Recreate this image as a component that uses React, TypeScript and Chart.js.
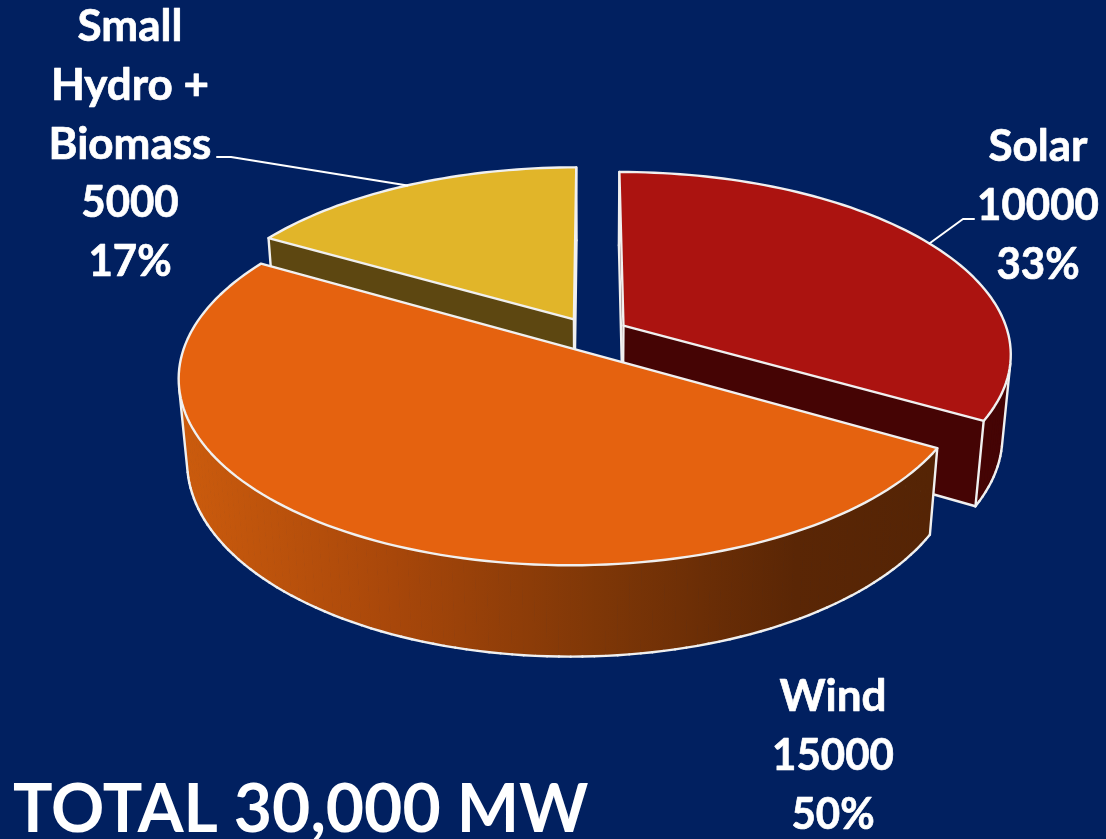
import React, { useEffect, useRef } from "react";
import { Chart, registerables } from "chart.js";

Chart.register(...registerables);

// Installed capacity split
const categories = ["Solar", "Wind", "Small\nHydro +\nBiomass"];
const capacityMW = [10000, 15000, 5000];
const heading = "TOTAL 30,000 MW";

// Slice styling
const topColors = ["#ab1310", "#e5620f", "#e1b529"];
const sideColors = ["#450404", "#552405", "#5d4711"];
const background = "#012060";
const edgeColor = "#f0f0f0";

// Label placement: centre x, first baseline, optional leader elbow points
const labelCentres = [1038, 833, 130];
const labelTops = [161, 711, 41];
const leaderElbows: number[][][] = [
  [[974, 219], [963, 219]],
  [],
  [[217, 157], [231, 157]],
];
const LINE_HEIGHT = 58.8;
const NUMBER_SQUEEZE = 0.955;

// Camera model for the tilted disc
const CX = 592;
const CY = 334;
const RX = 385;
const KY = 179;
const PERSPECTIVE = 0.15;
const DEPTH = 83;
const DEPTH_SHRINK = 0.02;

type Pt = { x: number; y: number };

const project = (u: number, v: number, z: number): Pt => {
  const w = 1 - PERSPECTIVE * v + DEPTH_SHRINK * z;
  return { x: CX + (RX * u) / w, y: CY + (KY * v + DEPTH * z) / w };
};

const pie3d = {
  id: "pie3d",
  beforeDatasetsDraw(chart: Chart) {
    const ctx = chart.ctx;
    const arcs = chart.getDatasetMeta(0).data as any[];
    const total = capacityMW.reduce((a, b) => a + b, 0);

    const windWall = ctx.createLinearGradient(185, 0, 930, 0);
    windWall.addColorStop(0, "#cb5b0d");
    windWall.addColorStop(0.28, "#a8470a");
    windWall.addColorStop(0.55, "#7f3707");
    windWall.addColorStop(0.82, "#5a2605");
    windWall.addColorStop(1, sideColors[1]);

    ctx.save();
    ctx.lineJoin = "round";
    ctx.lineCap = "round";

    // Back slices first, the front slice last
    for (const i of [2, 0, 1]) {
      const arc = arcs[i];
      const start: number = arc.startAngle;
      const end: number = arc.endAngle;
      const mid = (start + end) / 2;
      const d = arc.options.offset / arc.outerRadius;
      const ox = Math.cos(mid) * d;
      const oy = Math.sin(mid) * d;

      // Outline of the slice in the disc plane, clockwise from the apex
      const plane: { u: number; v: number; rim: boolean }[] = [{ u: ox, v: oy, rim: false }];
      const steps = Math.ceil((end - start) / (Math.PI / 120));
      for (let s = 0; s <= steps; s++) {
        const a = start + ((end - start) * s) / steps;
        plane.push({ u: ox + Math.cos(a), v: oy + Math.sin(a), rim: s > 0 && s < steps });
      }
      const top = plane.map((p) => project(p.u, p.v, 0));
      const bottom = plane.map((p) => project(p.u, p.v, 1));
      const n = plane.length;

      // Keep the wall quads that face the viewer
      const front: boolean[] = [];
      for (let j = 0; j < n; j++) {
        const k = (j + 1) % n;
        const quad = [top[j], top[k], bottom[k], bottom[j]];
        let area = 0;
        quad.forEach((p, q) => {
          const r = quad[(q + 1) % 4];
          area += p.x * r.y - r.x * p.y;
        });
        front.push(area < 0);
      }

      const isRimEdge = (j: number) => j >= 1 && j < n - 1;
      const wallFill = (j: number) => (i === 1 && isRimEdge(j) ? windWall : sideColors[i]);

      for (let j = 0; j < n; j++) {
        if (!front[j]) continue;
        const k = (j + 1) % n;
        ctx.beginPath();
        ctx.moveTo(top[j].x, top[j].y);
        ctx.lineTo(top[k].x, top[k].y);
        ctx.lineTo(bottom[k].x, bottom[k].y);
        ctx.lineTo(bottom[j].x, bottom[j].y);
        ctx.closePath();
        ctx.fillStyle = wallFill(j);
        ctx.strokeStyle = wallFill(j);
        ctx.lineWidth = 1;
        ctx.fill();
        ctx.stroke();
      }

      // Wall edges: lower rim, silhouette turns and slice corners
      ctx.strokeStyle = edgeColor;
      ctx.lineWidth = 2.4;
      for (let j = 0; j < n; j++) {
        const k = (j + 1) % n;
        if (front[j]) {
          ctx.beginPath();
          ctx.moveTo(bottom[j].x, bottom[j].y);
          ctx.lineTo(bottom[k].x, bottom[k].y);
          ctx.stroke();
        }
        const prev = (j - 1 + n) % n;
        const corner = !plane[j].rim;
        if (front[prev] !== front[j] || (corner && (front[prev] || front[j]))) {
          ctx.beginPath();
          ctx.moveTo(top[j].x, top[j].y);
          ctx.lineTo(bottom[j].x, bottom[j].y);
          ctx.stroke();
        }
      }

      // Top face
      ctx.beginPath();
      top.forEach((p, j) => (j ? ctx.lineTo(p.x, p.y) : ctx.moveTo(p.x, p.y)));
      ctx.closePath();
      ctx.fillStyle = topColors[i];
      ctx.fill();
      ctx.strokeStyle = edgeColor;
      ctx.lineWidth = 2.4;
      ctx.stroke();
    }

    // Leader lines run from the label to the middle of the slice rim
    arcs.forEach((arc, i) => {
      const elbows = leaderElbows[i];
      if (!elbows.length) return;
      const mid = (arc.startAngle + arc.endAngle) / 2;
      const d = arc.options.offset / arc.outerRadius;
      const rim = project(Math.cos(mid) * (1 + d), Math.sin(mid) * (1 + d), 0);
      ctx.beginPath();
      elbows.forEach(([x, y], j) => (j ? ctx.lineTo(x, y) : ctx.moveTo(x, y)));
      ctx.lineTo(rim.x, rim.y);
      ctx.strokeStyle = "#ffffff";
      ctx.lineWidth = 2;
      ctx.stroke();
    });

    // Data labels: category, value and share
    ctx.fillStyle = "#ffffff";
    ctx.strokeStyle = "#ffffff";
    ctx.lineWidth = 0.7;
    ctx.font = "bold 44px Lato";
    ctx.textAlign = "center";
    ctx.textBaseline = "alphabetic";
    categories.forEach((name, i) => {
      const words = name.split("\n");
      const numbers = [
        String(capacityMW[i]),
        `${Math.round((capacityMW[i] / total) * 100)}%`,
      ];
      [...words, ...numbers].forEach((line, j) => {
        ctx.save();
        ctx.translate(labelCentres[i], labelTops[i] + j * LINE_HEIGHT);
        if (j >= words.length) ctx.scale(NUMBER_SQUEEZE, 1);
        ctx.fillText(line, 0, 0);
        ctx.strokeText(line, 0, 0);
        ctx.restore();
      });
    });

    ctx.restore();
    return false;
  },
};

export default function App() {
  const canvasRef = useRef<HTMLCanvasElement>(null);

  useEffect(() => {
    const canvas = canvasRef.current;
    if (!canvas) return;
    const chart = new Chart(canvas, {
      type: "pie",
      data: {
        labels: categories.map((c) => c.replace(/\n/g, " ")),
        datasets: [
          {
            data: capacityMW,
            backgroundColor: topColors,
            borderColor: edgeColor,
            borderWidth: 2,
            offset: 28.5,
          },
        ],
      },
      options: {
        animation: false,
        responsive: false,
        rotation: 0,
        radius: 300,
        layout: { padding: { left: 13, bottom: 0 } },
        plugins: {
          legend: { display: false },
          tooltip: { enabled: false },
          title: {
            display: true,
            text: heading,
            position: "bottom",
            align: "start",
            color: "#ffffff",
            font: { family: "Lato", weight: "bold", size: 66, lineHeight: 1 },
            padding: { top: 0, bottom: -5 },
          },
        },
      },
      plugins: [pie3d],
    });
    return () => chart.destroy();
  }, []);

  return (
    <div style={{ position: "fixed", inset: 0, overflow: "hidden", background }}>
      <canvas ref={canvasRef} width={1106} height={839} style={{ display: "block", background }} />
    </div>
  );
}
